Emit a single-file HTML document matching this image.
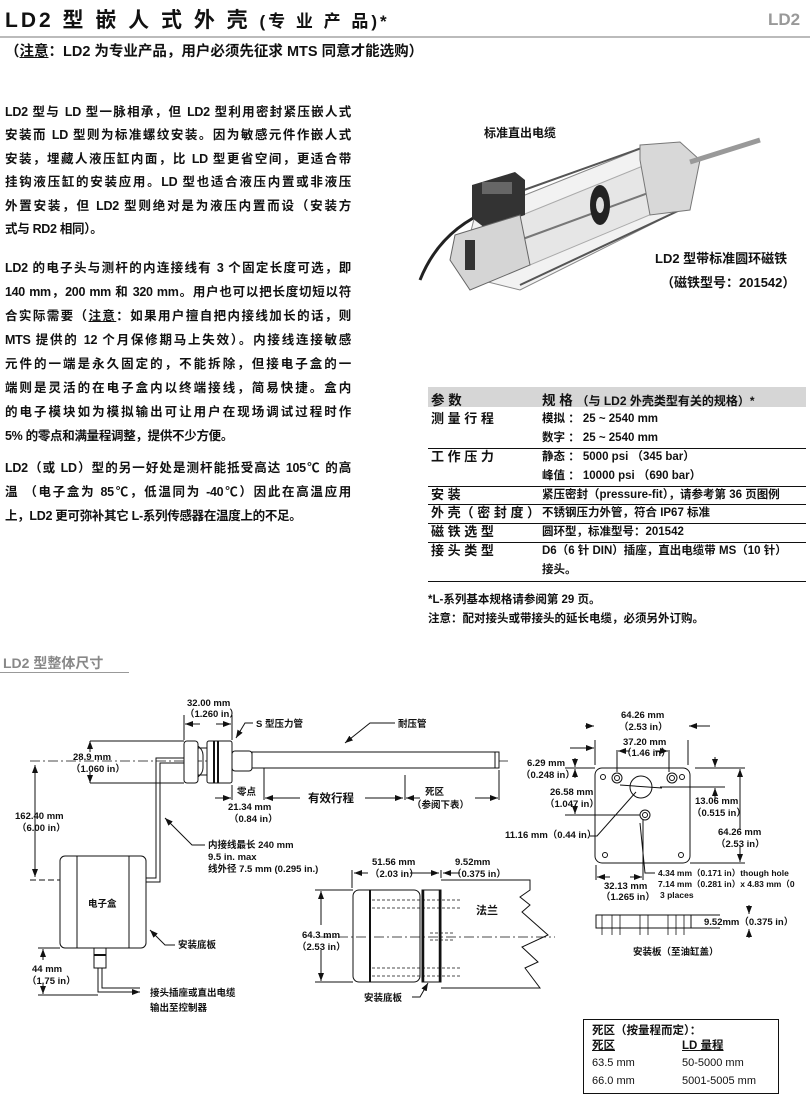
<!DOCTYPE html>
<html><head><meta charset="utf-8">
<style>
*{margin:0;padding:0;box-sizing:border-box}
body{width:810px;height:1100px;background:#fff;position:relative;overflow:hidden;font-family:"Liberation Sans","Noto Sans CJK SC",sans-serif;color:#111}
.a{position:absolute;white-space:nowrap}
.b{font-weight:bold}
.ln{position:absolute;left:5px;width:346px;font-size:12.5px;font-weight:bold;text-align:justify;text-align-last:justify;white-space:nowrap;line-height:16px;letter-spacing:-0.3px}
.t{font-size:11.5px;font-weight:bold;line-height:14px}
.hr{position:absolute;left:428px;width:378px;height:1px;background:#111}
svg text{font-family:"Liberation Sans","Noto Sans CJK SC",sans-serif;font-weight:bold}
</style></head><body>
<div class="a b" style="left:5px;top:4px;font-size:21px;letter-spacing:3px">LD2 型 嵌 人 式 外 壳 <span style="font-size:17px">(专 业 产 品)*</span></div>
<div class="a b" style="left:768px;top:10px;font-size:17px;color:#999">LD2</div>
<div class="a" style="left:0;top:36px;width:810px;height:2px;background:#bbb"></div>
<div class="a b" style="left:5px;top:40px;font-size:14.5px">（<u>注意</u>：LD2 为专业产品，用户必须先征求 MTS 同意才能选购）</div>

<div class="ln" style="top:104px">LD2 型与 LD 型一脉相承，但 LD2 型利用密封紧压嵌人式</div>
<div class="ln" style="top:127px">安装而 LD 型则为标准螺纹安装。因为敏感元件作嵌人式</div>
<div class="ln" style="top:151px">安装，埋藏人液压缸内面，比 LD 型更省空间，更适合带</div>
<div class="ln" style="top:174px">挂钩液压缸的安装应用。LD 型也适合液压内置或非液压</div>
<div class="ln" style="top:198px">外置安装，但 LD2 型则绝对是为液压内置而设（安装方</div>
<div class="ln" style="top:221px;text-align-last:left;width:auto">式与 RD2 相同）。</div>

<div class="ln" style="top:260px">LD2 的电子头与测杆的内连接线有 3 个固定长度可选，即</div>
<div class="ln" style="top:284px">140 mm，200 mm 和 320 mm。用户也可以把长度切短以符</div>
<div class="ln" style="top:308px">合实际需要（<u>注意</u>：如果用户擅自把内接线加长的话，则</div>
<div class="ln" style="top:332px">MTS 提供的 12 个月保修期马上失效）。内接线连接敏感</div>
<div class="ln" style="top:356px">元件的一端是永久固定的，不能拆除，但接电子盒的一</div>
<div class="ln" style="top:380px">端则是灵活的在电子盒内以终端接线，简易快捷。盒内</div>
<div class="ln" style="top:404px">的电子模块如为模拟输出可让用户在现场调试过程时作</div>
<div class="ln" style="top:428px;text-align-last:left;width:auto">5% 的零点和满量程调整，提供不少方便。</div>

<div class="ln" style="top:460px">LD2（或 LD）型的另一好处是测杆能抵受高达 105℃ 的高</div>
<div class="ln" style="top:484px">温 （电子盒为 85℃，低温同为 -40℃）因此在高温应用</div>
<div class="ln" style="top:508px;text-align-last:left;width:auto">上，LD2 更可弥补其它 L-系列传感器在温度上的不足。</div>

<!-- photo -->
<div class="a b" style="left:484px;top:124px;font-size:12px">标准直出电缆</div>
<svg class="a" style="left:400px;top:100px" width="410" height="200">
<path d="M20 180 Q40 130 90 110" stroke="#222" stroke-width="3" fill="none"/>
<polygon points="75,115 250,45 270,62 280,110 120,190 60,175" fill="#f2f2f2" stroke="#888"/>
<polygon points="110,120 270,55 290,98 130,165" fill="#e6e6e6" stroke="#aaa"/>
<line x1="110" y1="95" x2="250" y2="45" stroke="#555" stroke-width="2"/>
<line x1="120" y1="185" x2="280" y2="110" stroke="#555" stroke-width="2"/>
<line x1="120" y1="140" x2="270" y2="85" stroke="#777" stroke-width="2"/>
<polygon points="240,45 280,42 300,60 290,110 250,115 240,60" fill="#d8d8d8" stroke="#777"/>
<line x1="290" y1="62" x2="360" y2="40" stroke="#999" stroke-width="5"/>
<ellipse cx="200" cy="105" rx="10" ry="20" fill="#222"/>
<ellipse cx="200" cy="105" rx="4" ry="8" fill="#ddd"/>
<polygon points="72,85 115,72 125,80 125,115 85,128 72,118" fill="#333"/>
<rect x="82" y="82" width="30" height="12" fill="#666"/>
<polygon points="55,135 120,115 130,165 70,190 50,160" fill="#d5d5d5" stroke="#666"/>
<rect x="65" y="140" width="10" height="30" fill="#333"/>
</svg>
<div class="a b" style="left:655px;top:248px;font-size:13px">LD2 型带标准圆环磁铁</div>
<div class="a b" style="left:661px;top:272px;font-size:13px">（磁铁型号：201542）</div>

<!-- table -->
<div class="a" style="left:428px;top:387px;width:378px;height:20px;background:#d6d6d6"></div>
<div class="a b" style="left:431px;top:389px;font-size:13.5px">参 数</div>
<div class="a b" style="left:542px;top:389px;font-size:13.5px">规 格 <span style="font-size:12px">（与 LD2 外壳类型有关的规格）*</span></div>
<div class="a b t" style="left:431px;top:412px;font-size:13px">测 量 行 程</div>
<div class="a t" style="left:542px;top:412px">模拟 ： 25 ~ 2540 mm</div>
<div class="a t" style="left:542px;top:431px">数字 ： 25 ~ 2540 mm</div>
<div class="hr" style="top:448px"></div>
<div class="a b t" style="left:431px;top:450px;font-size:13px">工 作 压 力</div>
<div class="a t" style="left:542px;top:450px">静态 ： 5000 psi （345 bar）</div>
<div class="a t" style="left:542px;top:469px">峰值 ： 10000 psi （690 bar）</div>
<div class="hr" style="top:486px"></div>
<div class="a b t" style="left:431px;top:488px;font-size:13px">安 装</div>
<div class="a t" style="left:542px;top:488px">紧压密封（pressure-fit），请参考第 36 页图例</div>
<div class="hr" style="top:504px"></div>
<div class="a b t" style="left:431px;top:506px;font-size:13px">外 壳（ 密 封 度 ）</div>
<div class="a t" style="left:542px;top:506px">不锈钢压力外管，符合 IP67 标准</div>
<div class="hr" style="top:523px"></div>
<div class="a b t" style="left:431px;top:525px;font-size:13px">磁 铁 选 型</div>
<div class="a t" style="left:542px;top:525px">圆环型，标准型号：201542</div>
<div class="hr" style="top:542px"></div>
<div class="a b t" style="left:431px;top:544px;font-size:13px">接 头 类 型</div>
<div class="a t" style="left:542px;top:544px">D6（6 针 DIN）插座，直出电缆带 MS（10 针）</div>
<div class="a t" style="left:542px;top:563px">接头。</div>
<div class="hr" style="top:581px"></div>
<div class="a t" style="left:428px;top:593px">*L-系列基本规格请参阅第 29 页。</div>
<div class="a t" style="left:428px;top:612px">注意：配对接头或带接头的延长电缆，必须另外订购。</div>

<div class="a b" style="left:3px;top:653px;font-size:14px;color:#888">LD2 型整体尺寸</div>
<div class="a" style="left:0;top:672px;width:129px;height:1px;background:#999"></div>

<svg class="a" style="left:0;top:0" width="810" height="1100" font-size="9.5">
<defs><marker id="ar" markerWidth="8" markerHeight="6" refX="8" refY="3" orient="auto"><path d="M0,0 L8,3 L0,6z" fill="#111"/></marker></defs>
<g stroke="#111" fill="none" stroke-width="1">
<!-- center line -->
<line x1="30" y1="761" x2="510" y2="761" stroke-dasharray="10,3,2,3" stroke-width="0.8"/>
<!-- hub -->
<rect x="184" y="741" width="14" height="42" rx="3" fill="#fff"/>
<path d="M198 746 Q203 750 203 755 L203 768 Q203 773 198 777" />
<line x1="198" y1="748" x2="208" y2="748"/><line x1="198" y1="775" x2="208" y2="775"/>
<rect x="207" y="741" width="25" height="42" rx="2" fill="#fff"/>
<line x1="214" y1="741" x2="214" y2="783" stroke-width="2"/><line x1="218" y1="741" x2="218" y2="783" stroke-width="2"/>
<rect x="232" y="751" width="20" height="20" rx="3" fill="#fff"/>
<rect x="252" y="752" width="247" height="16" fill="#fff"/>
<line x1="495" y1="752" x2="495" y2="768"/>
<!-- cable -->
<path d="M184 758 L156 758 L156 878 L146 878" stroke-width="1"/>
<path d="M184 763 L160 763 L160 882 L146 882" stroke-width="1"/>
<!-- box -->
<rect x="60" y="856" width="86" height="92" rx="5" fill="#fff"/>
<line x1="77" y1="856" x2="77" y2="948"/><line x1="129" y1="856" x2="129" y2="948"/>
<rect x="94" y="948" width="12" height="20" fill="#fff"/>
<line x1="94" y1="955" x2="106" y2="955" stroke-width="2"/>
<path d="M98 968 L98 992 L140 992" marker-end="url(#ar)"/>
<path d="M102 968 L102 988 L140 988"/>
<!-- dims left -->
<line x1="30" y1="880" x2="60" y2="880" stroke-dasharray="6,3"/>
<line x1="35" y1="765" x2="35" y2="877" marker-end="url(#ar)"/>
<line x1="35" y1="800" x2="35" y2="765" marker-end="url(#ar)"/>
<line x1="90" y1="741" x2="184" y2="741"/><line x1="90" y1="783" x2="184" y2="783"/>
<line x1="90" y1="752" x2="90" y2="741" marker-end="url(#ar)"/><line x1="90" y1="772" x2="90" y2="783" marker-end="url(#ar)"/>
<line x1="38" y1="948" x2="60" y2="948"/><line x1="38" y1="995" x2="98" y2="995"/>
<line x1="43" y1="960" x2="43" y2="949" marker-end="url(#ar)"/><line x1="43" y1="983" x2="43" y2="994" marker-end="url(#ar)"/>
<line x1="184" y1="715" x2="184" y2="740"/><line x1="232" y1="715" x2="232" y2="740"/>
<line x1="200" y1="724" x2="185" y2="724" marker-end="url(#ar)"/><line x1="216" y1="724" x2="231" y2="724" marker-end="url(#ar)"/>
<line x1="232" y1="785" x2="232" y2="800"/><line x1="264" y1="768" x2="264" y2="800"/>
<line x1="215" y1="798" x2="231" y2="798" marker-end="url(#ar)"/>
<line x1="300" y1="798" x2="265" y2="798" marker-end="url(#ar)"/>
<line x1="365" y1="798" x2="403" y2="798" marker-end="url(#ar)"/>
<line x1="405" y1="775" x2="405" y2="800"/><line x1="499" y1="770" x2="499" y2="800"/>
<line x1="475" y1="798" x2="498" y2="798" marker-end="url(#ar)"/>
<line x1="420" y1="798" x2="406" y2="798" marker-end="url(#ar)"/>
<!-- leaders -->
<path d="M253 723 L245 723 L236 738" marker-end="url(#ar)"/>
<path d="M395 723 L370 723 L345 743" marker-end="url(#ar)"/>
<path d="M205 845 L192 845 L165 818" marker-end="url(#ar)"/>
<path d="M175 945 L165 945 L150 930" marker-end="url(#ar)"/>
<!-- flange view -->
<rect x="353" y="890" width="67" height="92" rx="6" fill="#fff"/>
<line x1="370" y1="890" x2="370" y2="982" stroke-width="2"/>
<rect x="422" y="890" width="19" height="92" fill="#fff"/>
<line x1="423" y1="890" x2="423" y2="982" stroke-width="2.5"/><line x1="440" y1="890" x2="440" y2="982" stroke-width="2.5"/>
<path d="M441 880 L530 880 L530 890 L520 897 L530 905 L522 912 L548 935 L522 947 L538 962 L525 968 L540 988 L441 988"/>
<g stroke-dasharray="3,2" stroke-width="0.7">
<line x1="372" y1="900" x2="460" y2="900"/><line x1="372" y1="908" x2="460" y2="908"/>
<line x1="372" y1="968" x2="460" y2="968"/><line x1="372" y1="976" x2="460" y2="976"/>
<line x1="430" y1="933" x2="455" y2="933"/><line x1="430" y1="940" x2="455" y2="940"/>
</g>
<line x1="320" y1="937" x2="555" y2="937" stroke-dasharray="10,3,2,3" stroke-width="0.8"/>
<line x1="315" y1="890" x2="353" y2="890"/><line x1="315" y1="982" x2="353" y2="982"/>
<line x1="321" y1="925" x2="321" y2="891" marker-end="url(#ar)"/><line x1="321" y1="950" x2="321" y2="981" marker-end="url(#ar)"/>
<line x1="352" y1="870" x2="352" y2="888"/><line x1="441" y1="870" x2="441" y2="878"/>
<line x1="368" y1="873" x2="354" y2="873" marker-end="url(#ar)"/>
<line x1="410" y1="873" x2="439" y2="873" marker-end="url(#ar)"/>
<line x1="460" y1="873" x2="443" y2="873" marker-end="url(#ar)"/>
<path d="M412 997 L420 997 L428 983" marker-end="url(#ar)"/>
<!-- mounting plate -->
<rect x="595" y="768" width="95" height="95" rx="7" fill="#fff"/>
<circle cx="603" cy="777" r="2.5"/><circle cx="682" cy="777" r="2.5"/>
<circle cx="605" cy="855" r="2.5"/><circle cx="681" cy="855" r="2.5"/>
<circle cx="617" cy="778" r="5"/><circle cx="617" cy="778" r="2.5"/>
<circle cx="672" cy="778" r="5"/><circle cx="672" cy="778" r="2.5"/>
<circle cx="641" cy="787" r="11"/><circle cx="645" cy="815" r="5"/><circle cx="645" cy="815" r="2.5"/>
<line x1="620" y1="785" x2="662" y2="788"/>
<line x1="595" y1="740" x2="595" y2="765"/><line x1="688" y1="740" x2="688" y2="765"/>
<line x1="570" y1="748" x2="594" y2="748" marker-end="url(#ar)"/><line x1="710" y1="726" x2="689" y2="726" marker-end="url(#ar)"/>
<line x1="585" y1="726" x2="594" y2="726" marker-end="url(#ar)"/>
<line x1="617" y1="750" x2="617" y2="772"/><line x1="669" y1="750" x2="669" y2="772"/>
<line x1="630" y1="751" x2="618" y2="751" marker-end="url(#ar)"/><line x1="655" y1="751" x2="668" y2="751" marker-end="url(#ar)"/>
<line x1="565" y1="768" x2="595" y2="768"/><line x1="565" y1="815" x2="640" y2="815"/>
<line x1="575" y1="758" x2="575" y2="767" marker-end="url(#ar)"/><line x1="575" y1="778" x2="575" y2="769" marker-end="url(#ar)"/>
<line x1="575" y1="805" x2="575" y2="814" marker-end="url(#ar)"/>
<line x1="695" y1="768" x2="745" y2="768"/><line x1="660" y1="787" x2="725" y2="787"/><line x1="690" y1="863" x2="745" y2="863"/>
<line x1="715" y1="757" x2="715" y2="767" marker-end="url(#ar)"/><line x1="715" y1="800" x2="715" y2="788" marker-end="url(#ar)"/>
<line x1="740" y1="830" x2="740" y2="769" marker-end="url(#ar)"/><line x1="740" y1="846" x2="740" y2="862" marker-end="url(#ar)"/>
<line x1="596" y1="865" x2="596" y2="880"/><line x1="643" y1="820" x2="643" y2="880"/>
<line x1="610" y1="877" x2="597" y2="877" marker-end="url(#ar)"/><line x1="630" y1="877" x2="642" y2="877" marker-end="url(#ar)"/>
<path d="M590 836 L597 836 L636 792"/>
<path d="M655 873 L645 873 L640 823"/>
<rect x="596" y="915" width="95" height="13" fill="#fff"/>
<g stroke-width="0.8"><line x1="602" y1="915" x2="602" y2="935"/><line x1="612" y1="915" x2="612" y2="935"/><line x1="620" y1="915" x2="620" y2="935"/>
<line x1="640" y1="915" x2="640" y2="935"/><line x1="648" y1="915" x2="648" y2="935"/><line x1="668" y1="915" x2="668" y2="935"/><line x1="676" y1="915" x2="676" y2="935"/><line x1="684" y1="915" x2="684" y2="935"/></g>
<line x1="690" y1="915" x2="720" y2="915"/><line x1="690" y1="928" x2="720" y2="928"/>
<line x1="749" y1="905" x2="749" y2="914" marker-end="url(#ar)"/><line x1="749" y1="938" x2="749" y2="929" marker-end="url(#ar)"/>
</g>
<g fill="#111">
<text x="187" y="706">32.00 mm</text><text x="185" y="717">（1.260 in）</text>
<text x="256" y="727">S 型压力管</text><text x="398" y="727">耐压管</text>
<text x="73" y="760">28.9 mm</text><text x="71" y="772">（1.060 in）</text>
<text x="15" y="819">162.40 mm</text><text x="17" y="831">（6.00 in）</text>
<text x="237" y="795">零点</text><text x="228" y="810">21.34 mm</text><text x="229" y="822">（0.84 in）</text>
<text x="308" y="802" font-size="11.5">有效行程</text>
<text x="425" y="795">死区</text><text x="412" y="808">（参阅下表）</text>
<text x="208" y="848">内接线最长 240 mm</text><text x="208" y="860">9.5 in. max</text><text x="208" y="872">线外径 7.5 mm (0.295 in.)</text>
<text x="88" y="907">电子盒</text><text x="178" y="948">安装底板</text>
<text x="32" y="972">44 mm</text><text x="27" y="984">（1.75 in）</text>
<text x="150" y="996">接头插座或直出电缆</text><text x="150" y="1011">输出至控制器</text>
<text x="372" y="865">51.56 mm</text><text x="370" y="877">（2.03 in）</text>
<text x="455" y="865">9.52mm</text><text x="452" y="877">（0.375 in）</text>
<text x="302" y="938">64.3 mm</text><text x="297" y="950">（2.53 in）</text>
<text x="476" y="914" font-size="11">法兰</text><text x="364" y="1001">安装底板</text>
<text x="621" y="718">64.26 mm</text><text x="619" y="730">（2.53 in）</text>
<text x="623" y="745">37.20 mm</text><text x="622" y="756">（1.46 in）</text>
<text x="527" y="766">6.29 mm</text><text x="521" y="778">（0.248 in）</text>
<text x="550" y="795">26.58 mm</text><text x="545" y="807">（1.047 in）</text>
<text x="505" y="838">11.16 mm（0.44 in）</text>
<text x="695" y="804">13.06 mm</text><text x="692" y="816">（0.515 in）</text>
<text x="718" y="835">64.26 mm</text><text x="716" y="847">（2.53 in）</text>
<text x="658" y="876" font-size="8.5">4.34 mm（0.171 in）though hole</text>
<text x="658" y="887" font-size="8.5">7.14 mm（0.281 in）x 4.83 mm（0</text>
<text x="660" y="898" font-size="8.5">3 places</text>
<text x="604" y="889">32.13 mm</text><text x="601" y="900">（1.265 in）</text>
<text x="704" y="925">9.52mm（0.375 in）</text>
<text x="633" y="955">安装板（至油缸盖）</text>
</g>
</svg>

<div class="a" style="left:583px;top:1019px;width:196px;height:75px;border:1px solid #111"></div>
<div class="a b" style="left:592px;top:1022px;font-size:11.5px">死区（按量程而定）：</div>
<div class="a b" style="left:592px;top:1037px;font-size:11.5px;text-decoration:underline">死区</div>
<div class="a b" style="left:682px;top:1037px;font-size:11.5px;text-decoration:underline">LD 量程</div>
<div class="a" style="left:592px;top:1057px;font-size:11px">63.5 mm</div>
<div class="a" style="left:682px;top:1057px;font-size:11px">50-5000 mm</div>
<div class="a" style="left:592px;top:1075px;font-size:11px">66.0 mm</div>
<div class="a" style="left:682px;top:1075px;font-size:11px">5001-5005 mm</div>
</body></html>
